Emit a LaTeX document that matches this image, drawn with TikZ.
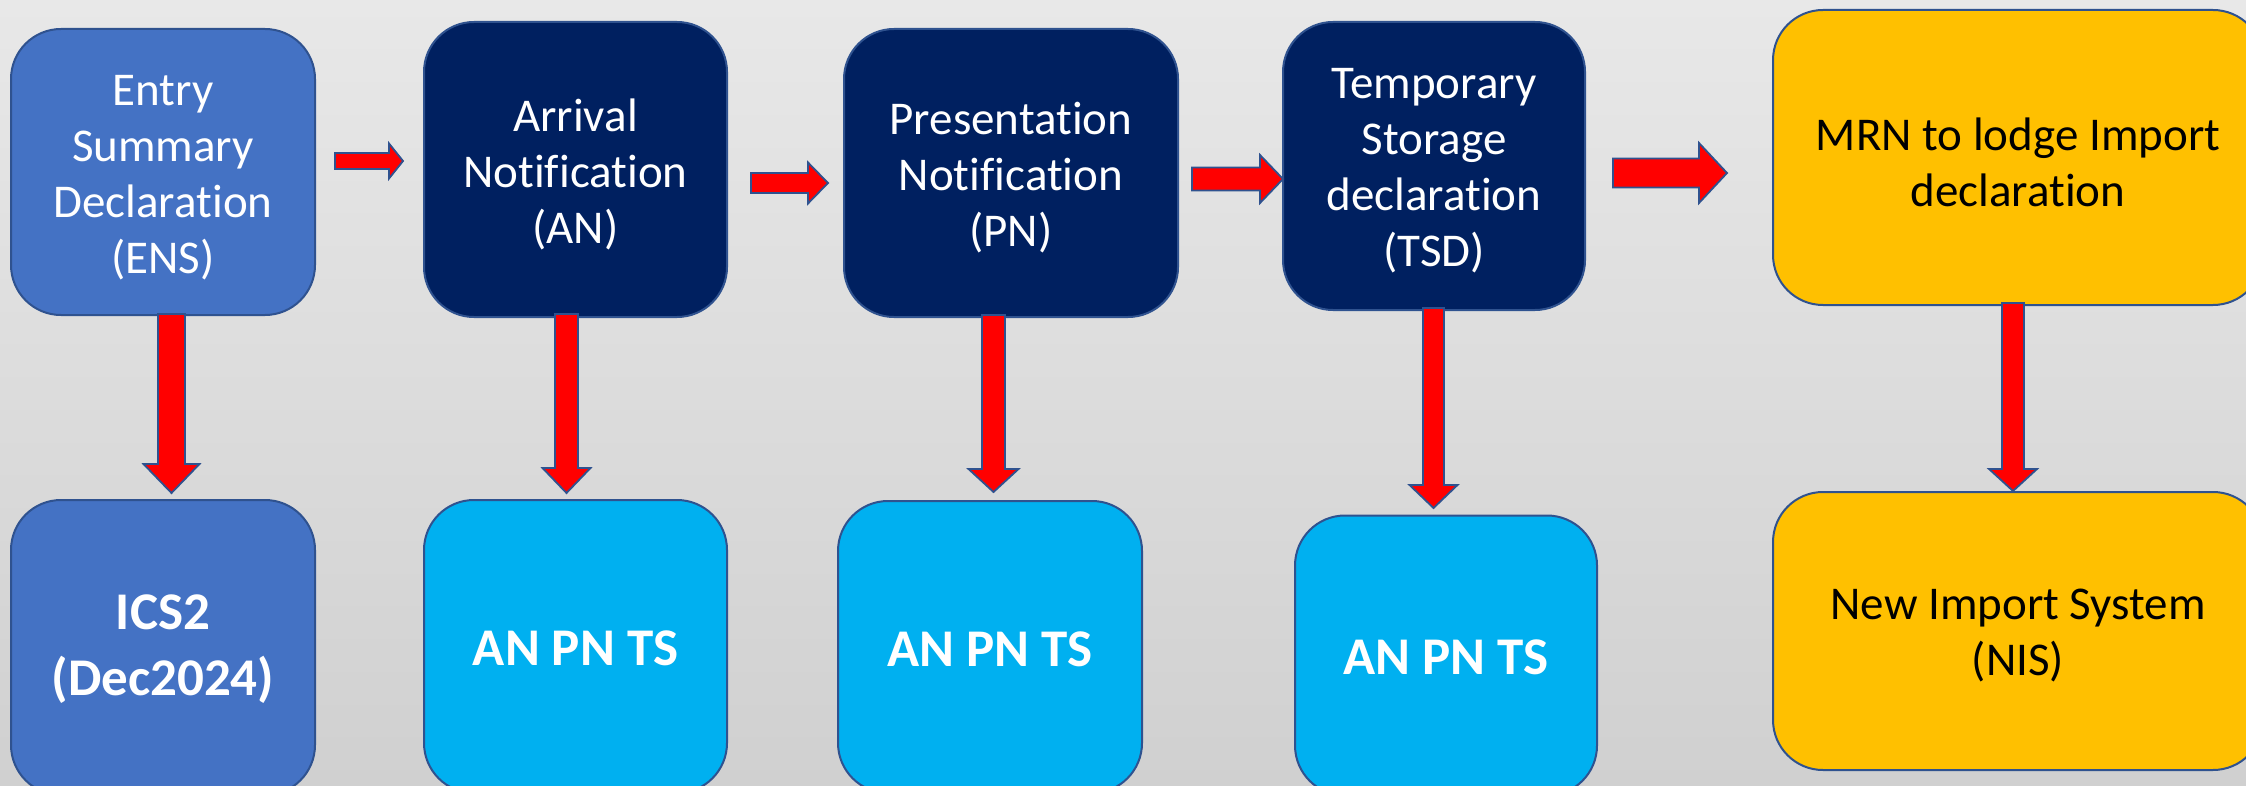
\documentclass[tikz,border=0pt]{standalone}
\usepackage{fontspec}
\setmainfont[Ligatures=NoCommon]{Carlito}
\definecolor{bgtop}{RGB}{232,232,232}
\definecolor{bgbot}{RGB}{208,208,208}
\definecolor{edgeblue}{RGB}{47,82,143}
\definecolor{midblue}{RGB}{68,114,196}
\definecolor{navy}{RGB}{0,32,96}
\definecolor{skyblue}{RGB}{0,176,240}
\definecolor{amber}{RGB}{255,192,0}
\definecolor{arrowred}{RGB}{255,0,0}
\tikzset{
  box/.style={draw=edgeblue, line width=1pt, rounded corners=25pt, inner sep=0pt},
  regtext/.style={font=\fontsize{23.5}{28}\selectfont, align=center, inner sep=0pt, yshift=-2.5pt},
  boldtext/.style={font=\fontsize{26.5}{33}\selectfont\bfseries, align=center, inner sep=0pt, yshift=-1pt},
  blockarrow/.style={fill=arrowred, draw=edgeblue, line width=0.9pt, line join=miter},
}
% horizontal block arrow: x start, x head base, x tip, y centre, shaft half, head half
\newcommand\hblock[6]{%
  \draw[blockarrow] (#1,#4-#5) -- (#2,#4-#5) -- (#2,#4-#6) -- (#3,#4) -- (#2,#4+#6) -- (#2,#4+#5) -- (#1,#4+#5) -- cycle;}
% vertical block arrow: x centre, y start, y head base, y tip, shaft half, head half
\newcommand\vblock[6]{%
  \draw[blockarrow] (#1-#5,#2) -- (#1-#5,#3) -- (#1-#6,#3) -- (#1,#4) -- (#1+#6,#3) -- (#1+#5,#3) -- (#1+#5,#2) -- cycle;}
\begin{document}
\begin{tikzpicture}[x=0.5pt,y=-0.5pt]
\useasboundingbox (0,0) rectangle (2246,786);
\clip (0,0) rectangle (2246,786);
\shade[top color=bgtop, bottom color=bgbot] (0,0) rectangle (2246,786);

% top row boxes
\node[box, fill=midblue, minimum width=152pt, minimum height=143pt] (ens) at (163,172) {};
\node[box, fill=navy, minimum width=151.5pt, minimum height=147.5pt] (an) at (575.5,169.5) {};
\node[box, fill=navy, minimum width=167pt, minimum height=144pt] (pn) at (1011,173) {};
\node[box, fill=navy, minimum width=151pt, minimum height=144pt] (tsd) at (1434,166) {};
\node[box, fill=amber, minimum width=245pt, minimum height=147.5pt] (mrn) at (2018,157.5) {};

% bottom row boxes
\node[box, fill=midblue, minimum width=152pt, minimum height=147.5pt] (ics) at (163,647.5) {};
\node[box, fill=skyblue, minimum width=151.5pt, minimum height=146.5pt] (ts1) at (575.5,646.5) {};
\node[box, fill=skyblue, minimum width=152pt, minimum height=146pt] (ts2) at (990,647) {};
\node[box, fill=skyblue, minimum width=151pt, minimum height=140pt] (ts3) at (1446,655.5) {};
\node[box, fill=amber, minimum width=245pt, minimum height=139pt] (nis) at (2018,631) {};

% texts
\node[regtext, text=white, yshift=-0.5pt] (ens-t) at (ens.center) {Entry\\Summary\\Declaration\\(ENS)};
\node[regtext, text=white] (an-t) at (an.center) {Arrival\\Notification\\(AN)};
\node[regtext, text=white] (pn-t) at (pn.center) {Presentation\\Notification\\(PN)};
\node[regtext, text=white] (tsd-t) at (tsd.center) {Temporary\\Storage\\declaration\\(TSD)};
\node[regtext, text=black] (mrn-t) at (mrn.center) {MRN to lodge Import\\declaration};
\node[boldtext, text=white] (ics-t) at (ics.center) {ICS2\\(Dec2024)};
\node[boldtext, text=white] (ts1-t) at (ts1.center) {AN PN TS};
\node[boldtext, text=white] (ts2-t) at (ts2.center) {AN PN TS};
\node[boldtext, text=white] (ts3-t) at (ts3.center) {AN PN TS};
\node[regtext, text=black] (nis-t) at (nis.center) {New Import System\\(NIS)};

% horizontal arrows
\hblock{335}{389}{403}{161}{8}{17.5}
\hblock{751}{808}{828}{183}{10}{20.5}
\hblock{1192}{1260}{1283}{179}{11.5}{24}
\hblock{1613}{1699}{1727}{173}{14.5}{30}

% vertical arrows
\vblock{171.5}{314}{464}{493}{13.5}{28}
\vblock{566.5}{314}{468}{493}{11.5}{24}
\vblock{993.5}{315}{469}{492}{11.5}{25}
\vblock{1433.5}{308}{485}{508}{10.5}{24}
\vblock{2013}{303}{469}{491}{11}{24}
\end{tikzpicture}
\end{document}
